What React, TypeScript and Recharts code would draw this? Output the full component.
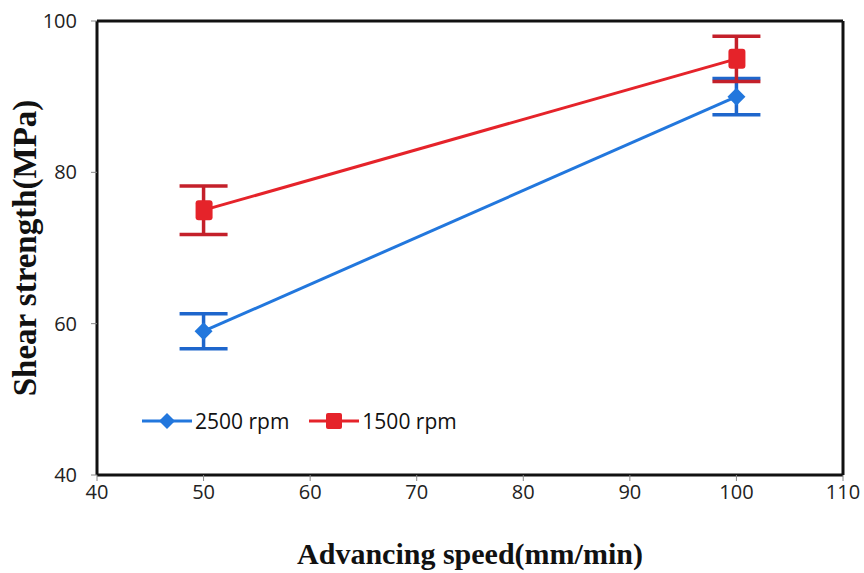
import { LineChart, Line, XAxis, YAxis, ErrorBar, ReferenceLine } from 'recharts'

const SPEEDS = [50, 100]
const RPM_2500 = [59, 90]
const ERR_2500 = [2.3, 2.4]
const RPM_1500 = [75, 95]
const ERR_1500 = [3.2, 3]
const X_TICKS = [40, 50, 60, 70, 80, 90, 100, 110]
const Y_TICKS = [40, 60, 80, 100]

const BLUE = '#2277dd'
const BLUE_ERR = '#1e66cc'
const RED = '#e5232a'
const RED_ERR = '#c4202a'

const data2500 = SPEEDS.map((s, i) => ({ speed: s, value: RPM_2500[i], err: ERR_2500[i] }))
const data1500 = SPEEDS.map((s, i) => ({ speed: s, value: RPM_1500[i], err: ERR_1500[i] }))

const TICK_STYLE = { fontSize: 20, fill: '#222', fontFamily: 'Open Sans, sans-serif' }
const TITLE_STYLE = { fontWeight: 700, fill: '#111', fontFamily: 'Liberation Serif, serif' }

function Diamond({ cx, cy }: { cx?: number; cy?: number }) {
  if (cx == null || cy == null) return null
  const r = 9
  return <path d={`M${cx},${cy - r} L${cx + r},${cy} L${cx},${cy + r} L${cx - r},${cy} Z`} fill={BLUE} />
}

function Square({ cx, cy }: { cx?: number; cy?: number }) {
  if (cx == null || cy == null) return null
  return <rect x={cx - 8} y={cy - 10} width={17} height={20} rx={3} fill={RED} />
}

function LegendBox() {
  const item = (label: string, color: string, marker: 'd' | 's') => (
    <div style={{ display: 'flex', alignItems: 'center', marginRight: 18 }}>
      <svg width={54} height={22}>
        <line x1={2} y1={11} x2={52} y2={11} stroke={color} strokeWidth={3} />
        {marker === 'd'
          ? <path d="M27,3 L35,11 L27,19 L19,11 Z" fill={color} />
          : <rect x={19} y={3} width={16} height={16} rx={2} fill={color} />}
      </svg>
      <span style={{ fontSize: 21, color: '#111', fontFamily: 'Open Sans, sans-serif', marginLeft: 1 }}>{label}</span>
    </div>
  )
  return (
    <div style={{ position: 'absolute', left: 140, top: 407, display: 'flex' }}>
      {item('2500 rpm', BLUE, 'd')}
      {item('1500 rpm', RED, 's')}
    </div>
  )
}

export default function App() {
  return (
    <div style={{ position: 'absolute', left: 0, top: 0, width: 864, height: 573, background: '#fff' }}>
      <LineChart width={864} height={573} margin={{ top: 21, right: 21, left: 0, bottom: 0 }}>
        <XAxis
          type="number"
          dataKey="speed"
          domain={[40, 110]}
          ticks={X_TICKS}
          tick={TICK_STYLE}
          tickLine={{ stroke: '#888' }}
          tickSize={6}
          tickMargin={4}
          axisLine={{ stroke: '#111', strokeWidth: 3 }}
          label={{ value: 'Advancing speed(mm/min)', position: 'insideBottom', offset: 9, style: { ...TITLE_STYLE, fontSize: 30 } }}
          height={98}
        />
        <YAxis
          type="number"
          domain={[40, 100]}
          ticks={Y_TICKS}
          tick={TICK_STYLE}
          tickLine={{ stroke: '#888' }}
          tickSize={6}
          tickMargin={14}
          axisLine={{ stroke: '#111', strokeWidth: 3 }}
          width={97}
          label={{ value: 'Shear strength(MPa)', angle: -90, position: 'insideLeft', offset: 24, style: { ...TITLE_STYLE, fontSize: 33, textAnchor: 'middle' } }}
        />
        <ReferenceLine y={100} stroke="#111" strokeWidth={3} ifOverflow="extendDomain" />
        <ReferenceLine x={110} stroke="#111" strokeWidth={3} ifOverflow="extendDomain" />
        <Line
          data={data2500}
          dataKey="value"
          name="2500 rpm"
          stroke={BLUE}
          strokeWidth={3}
          dot={<Diamond />}
          isAnimationActive={false}
        >
          <ErrorBar dataKey="err" direction="y" width={24} stroke={BLUE_ERR} strokeWidth={3.5} isAnimationActive={false} />
        </Line>
        <Line
          data={data1500}
          dataKey="value"
          name="1500 rpm"
          stroke={RED}
          strokeWidth={3}
          dot={<Square />}
          isAnimationActive={false}
        >
          <ErrorBar dataKey="err" direction="y" width={24} stroke={RED_ERR} strokeWidth={3.5} isAnimationActive={false} />
        </Line>
      </LineChart>
      <LegendBox />
    </div>
  )
}
